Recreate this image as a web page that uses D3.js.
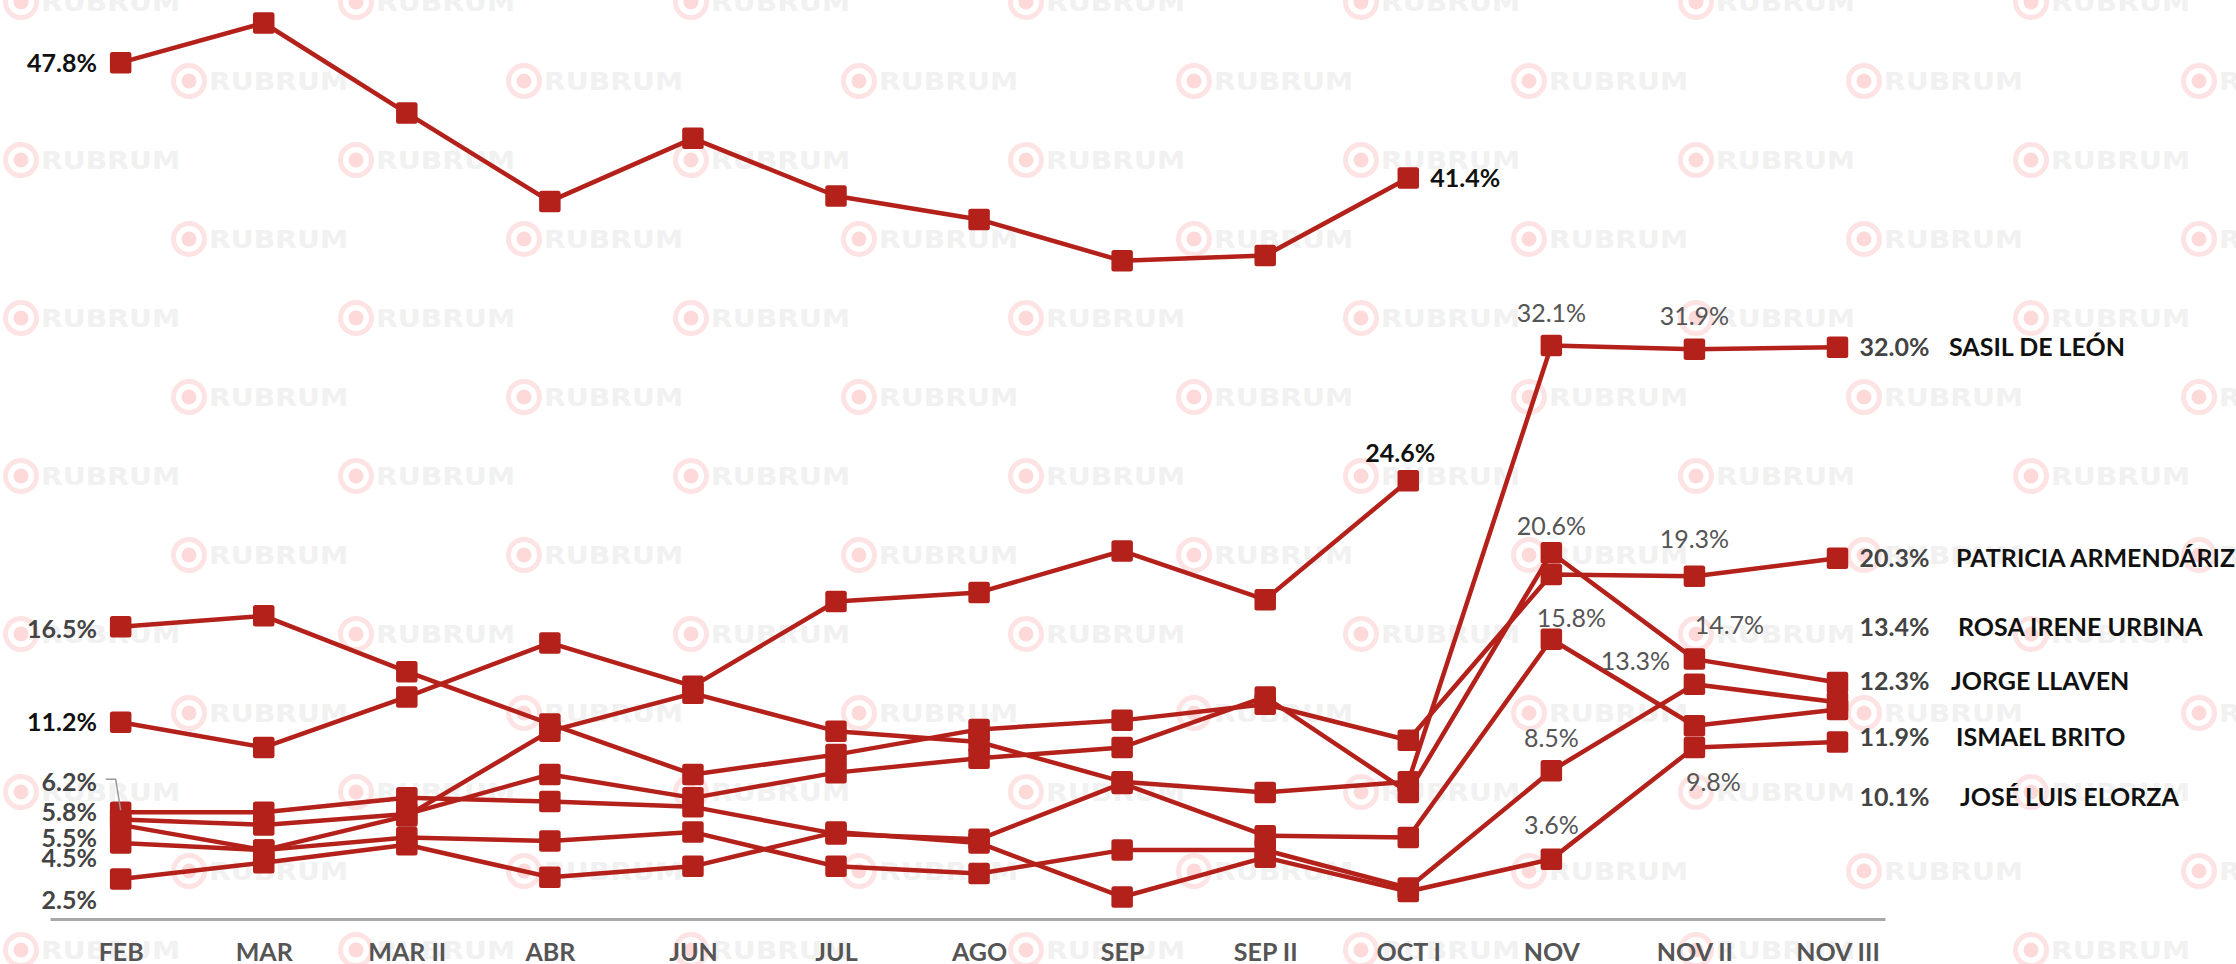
<!DOCTYPE html>
<meta charset="utf-8">
<head>
<style>
  body { margin: 0; background: #fff; }
  .linea { fill: none; stroke: #b3211a; stroke-width: 4.5; stroke-linejoin: round; }
  .punto { fill: #b3211a; }
  .eje path { stroke: #a9a9a9; stroke-width: 3; }
  .eje text { font-family: Lato, "Open Sans", sans-serif; font-weight: 700; font-size: 25px; fill: #555; }
  .etq { font-family: Lato, "Open Sans", sans-serif; font-weight: 700; font-size: 25px; }
  .dato { font-family: Lato, "Open Sans", sans-serif; font-weight: 400; font-size: 25px; fill: #555; }
  .marca text { font-family: "DejaVu Sans", sans-serif; font-weight: 700; font-size: 24px; fill: #f1f1f1; }
</style>
</head>
<body>
<script src="https://cdn.jsdelivr.net/npm/d3@7"></script>
<script>
// categorias (eje x)
var months = ["FEB", "MAR", "MAR II", "ABR", "JUN", "JUL", "AGO", "SEP", "SEP II", "OCT I", "NOV", "NOV II", "NOV III"];

// series, en %
var serieGeneral = [47.8, 50.0, 45.0, 40.1, 43.6, 40.4, 39.1, 36.8, 37.1, 41.4, null, null, null];
var serieOtro    = [11.2, 9.8, 12.6, 15.6, 13.2, 17.9, 18.4, 20.7, 18.0, 24.6, null, null, null];
var sasil        = [5.5, 4.1, 6.0, 10.7, 12.8, 10.7, 10.1, 7.9, 7.3, 7.9, 32.1, 31.9, 32.0];
var patricia     = [16.5, 17.1, 14.0, 11.1, 8.3, 9.4, 10.8, 11.3, 12.2, 10.2, 19.4, 19.3, 20.3];
var rosa         = [5.8, 5.5, 6.1, 8.3, 7.0, 8.4, 9.2, 9.8, 12.6, 7.3, 20.6, 14.7, 13.4];
var jorge        = [4.5, 4.1, 4.8, 4.6, 5.1, 3.2, 2.8, 4.1, 4.1, 2.0, 8.5, 13.3, 12.3];
var ismael       = [6.2, 6.2, 7.0, 6.8, 6.5, 5.0, 4.7, 7.8, 4.9, 4.8, 15.8, 11.0, 11.9];
var jose         = [2.5, 3.4, 4.4, 2.6, 3.2, 5.1, 4.5, 1.5, 3.7, 1.8, 3.6, 9.8, 10.1];

var nombres = ["", "", "SASIL DE LEÓN", "PATRICIA ARMENDÁRIZ", "ROSA IRENE URBINA", "JORGE LLAVEN", "ISMAEL BRITO", "JOSÉ LUIS ELORZA"];

var series = [serieGeneral, serieOtro, sasil, patricia, rosa, jorge, ismael, jose].map(function (v, i) {
    return { nombre: nombres[i], valores: v };
});

// acomodo de etiquetas (px)
var inicioDy = [0, 0, 13, 2, -7, 15, -30, 21];
var inicioColor = ["#111", "#111", "#444", "#444", "#444", "#444", "#444", "#444"];
var finDy = [0, 0, 0, 0, -56, -21, 27, 55];
var nombreDx = [-4, 0, -4, 3, 5, -2, 3, 7];
// etiquetas intermedias: [serie, indice de mes, dx, dy]
var datos = [
    [2, 10, 0, -33], [4, 10, 0, -27], [6, 10, 20, -21], [5, 10, 0, -33], [7, 10, 0, -34],
    [2, 11, 0, -33], [3, 11, 0, -37], [4, 11, 35, -34], [5, 11, -59, -23], [7, 11, 19, 35]
];

var W = 2236, H = 964;
var svg = d3.select("body").append("svg").attr("width", W).attr("height", H);

// marca de agua
var wm = svg.append("g").attr("class", "marca");
for (var k = 0; k <= 12; k++) {
    var cy = 2 + 79 * k;
    for (var cx = (k % 2 === 0 ? 21 : 189); cx < W + 40; cx += 335) {
        var g = wm.append("g").attr("transform", "translate(" + cx + "," + cy + ")");
        g.append("circle").attr("r", 15.5).attr("fill", "none").attr("stroke", "#fde3e3").attr("stroke-width", 5);
        g.append("circle").attr("r", 7.5).attr("fill", "#fdd9d9");
        g.append("text").attr("x", 20).attr("dy", "0.36em")
            .attr("textLength", 139).attr("lengthAdjust", "spacingAndGlyphs").text("RUBRUM");
    }
}

var x = d3.scalePoint().domain(months).range([50, 1885]).padding(0.413).align(0.598);
var y = d3.scaleLinear().domain([0, 50]).range([924, 23]);

svg.append("g")
    .attr("class", "eje")
    .attr("transform", "translate(0,919)")
    .call(d3.axisBottom(x).tickSize(0).tickSizeOuter(0).tickPadding(24));

var line = d3.line()
    .defined(function (d) { return d != null; })
    .x(function (d, i) { return x(months[i]); })
    .y(function (d) { return y(d); });

svg.selectAll(".linea")
    .data(series)
    .enter().append("path")
    .attr("class", "linea")
    .attr("d", function (s) { return line(s.valores); });

var pts = [];
series.forEach(function (s) {
    s.valores.forEach(function (v, i) { if (v != null) pts.push({ m: months[i], v: v }); });
});
var sz = 21.5;
svg.selectAll(".punto")
    .data(pts)
    .enter().append("rect")
    .attr("class", "punto")
    .attr("x", function (d) { return x(d.m) - sz / 2; })
    .attr("y", function (d) { return y(d.v) - sz / 2; })
    .attr("width", sz).attr("height", sz)
    .attr("rx", 2.5);

var fmt = function (v) { return d3.format(".1f")(v) + "%"; };

// etiquetas de inicio (FEB)
series.forEach(function (s, i) {
    var v = s.valores[0];
    svg.append("text").attr("class", "etq")
        .attr("x", 97).attr("y", y(v) + inicioDy[i]).attr("dy", "0.36em")
        .attr("text-anchor", "end").attr("fill", inicioColor[i])
        .text(fmt(v));
});
// guia de 6.2%
var px = x(months[0]), py = y(ismael[0]);
svg.append("path")
    .attr("d", "M" + (px - 15) + "," + (py + inicioDy[6] - 3) + "H" + (px - 5) + "L" + px + "," + (py - 2))
    .attr("fill", "none").attr("stroke", "#999").attr("stroke-width", 1.5);

// finales en OCT I
svg.append("text").attr("class", "etq").attr("fill", "#111")
    .attr("x", x("OCT I") + 22).attr("y", y(serieGeneral[9])).attr("dy", "0.36em")
    .text(fmt(serieGeneral[9]));
svg.append("text").attr("class", "etq").attr("fill", "#111")
    .attr("text-anchor", "middle")
    .attr("x", x("OCT I") - 8).attr("y", y(serieOtro[9]) - 28).attr("dy", "0.36em")
    .text(fmt(serieOtro[9]));

// finales en NOV III
series.forEach(function (s, i) {
    var v = s.valores[12];
    if (v == null) return;
    var yy = y(v) + finDy[i];
    svg.append("text").attr("class", "etq").attr("fill", "#444")
        .attr("x", x("NOV III") + 22).attr("y", yy).attr("dy", "0.36em")
        .text(fmt(v));
    svg.append("text").attr("class", "etq").attr("fill", "#111")
        .attr("x", 1953 + nombreDx[i]).attr("y", yy).attr("dy", "0.36em")
        .text(s.nombre);
});

// etiquetas intermedias
svg.selectAll(".dato")
    .data(datos)
    .enter().append("text")
    .attr("class", "dato")
    .attr("text-anchor", "middle")
    .attr("x", function (d) { return x(months[d[1]]) + d[2]; })
    .attr("y", function (d) { return y(series[d[0]].valores[d[1]]) + d[3]; })
    .attr("dy", "0.36em")
    .text(function (d) { return fmt(series[d[0]].valores[d[1]]); });
</script>
</body>
